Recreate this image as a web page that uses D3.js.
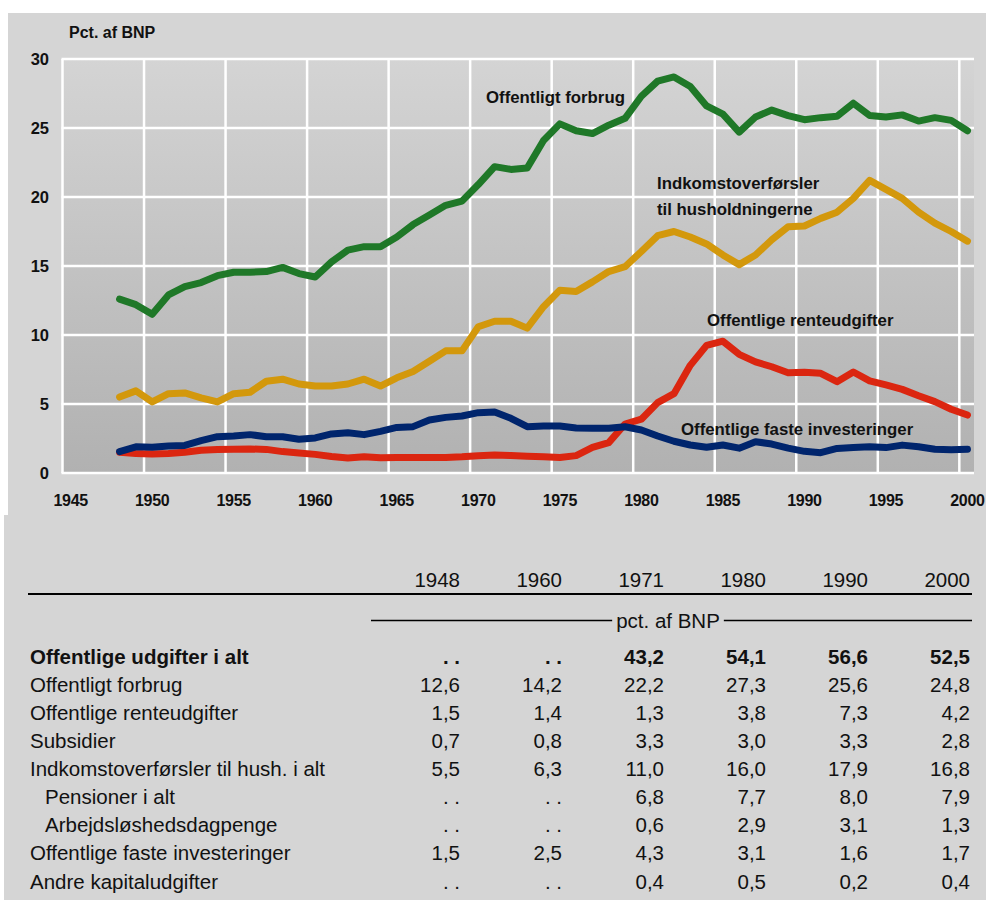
<!DOCTYPE html>
<html>
<head>
<meta charset="utf-8">
<script src="https://cdn.jsdelivr.net/npm/d3@7"></script>
<style>
  body { margin: 0; background: #fff; }
  svg { display: block; font-family: "Liberation Sans", Arial, sans-serif; }
</style>
</head>
<body>
<svg width="986" height="900"></svg>
<script>
// years 1948-2000
const years = [1948, 1949, 1950, 1951, 1952, 1953, 1954, 1955, 1956, 1957,
    1958, 1959, 1960, 1961, 1962, 1963, 1964, 1965, 1966, 1967,
    1968, 1969, 1970, 1971, 1972, 1973, 1974, 1975, 1976, 1977,
    1978, 1979, 1980, 1981, 1982, 1983, 1984, 1985, 1986, 1987,
    1988, 1989, 1990, 1991, 1992, 1993, 1994, 1995, 1996, 1997,
    1998, 1999, 2000]

const forbrug = [12.6, 12.2, 11.5, 12.9, 13.5, 13.8, 14.3, 14.55, 14.55, 14.6,
    14.9, 14.45, 14.2, 15.3, 16.15, 16.4, 16.4, 17.1, 18.0, 18.7,
    19.4, 19.7, 20.9, 22.2, 22.0, 22.1, 24.1, 25.3, 24.8, 24.6,
    25.2, 25.7, 27.3, 28.4, 28.7, 28.0, 26.6, 26.0, 24.7, 25.8,
    26.3, 25.9, 25.6, 25.75, 25.85, 26.8, 25.9, 25.8, 25.95, 25.5,
    25.75, 25.55, 24.8]

const overfoersler = [5.5, 5.95, 5.15, 5.75, 5.8, 5.45, 5.15, 5.75, 5.85, 6.65,
    6.8, 6.45, 6.3, 6.3, 6.45, 6.8, 6.3, 6.9, 7.35, 8.1,
    8.85, 8.85, 10.6, 11.0, 11.0, 10.5, 12.05, 13.25, 13.15, 13.85,
    14.6, 14.95, 16.05, 17.2, 17.5, 17.1, 16.6, 15.8, 15.1, 15.8,
    16.9, 17.85, 17.9, 18.45, 18.9, 19.9, 21.2, 20.55, 19.9, 18.9,
    18.1, 17.5, 16.8]

const renter = [1.5, 1.42, 1.38, 1.42, 1.5, 1.65, 1.7, 1.72, 1.74, 1.71,
    1.55, 1.45, 1.35, 1.2, 1.08, 1.18, 1.1, 1.12, 1.12, 1.12,
    1.12, 1.17, 1.25, 1.3, 1.26, 1.22, 1.18, 1.13, 1.26, 1.85,
    2.2, 3.55, 3.9, 5.1, 5.75, 7.8, 9.25, 9.55, 8.6, 8.05,
    7.7, 7.27, 7.3, 7.22, 6.62, 7.32, 6.68, 6.38, 6.06, 5.6,
    5.17, 4.62, 4.2]

const investeringer = [1.55, 1.9, 1.86, 1.96, 2.0, 2.34, 2.63, 2.68, 2.78, 2.63,
    2.63, 2.44, 2.54, 2.83, 2.92, 2.78, 3.02, 3.3, 3.36, 3.84,
    4.03, 4.13, 4.37, 4.42, 3.96, 3.36, 3.4, 3.4, 3.26, 3.25,
    3.25, 3.35, 3.12, 2.68, 2.3, 2.03, 1.86, 2.03, 1.8, 2.27,
    2.1, 1.8, 1.57, 1.47, 1.78, 1.85, 1.9, 1.84, 2.02, 1.9,
    1.72, 1.68, 1.72]

const xTicks = [1945, 1950, 1955, 1960, 1965, 1970, 1975, 1980, 1985, 1990, 1995, 2000]
const yTicks = [0, 5, 10, 15, 20, 25, 30]

// table
const tableYears = ["1948", "1960", "1971", "1980", "1990", "2000"]
const tableRows = [
    "Offentlige udgifter i alt",
    "Offentligt forbrug",
    "Offentlige renteudgifter",
    "Subsidier",
    "Indkomstoverførsler til hush. i alt",
    "Pensioner i alt",
    "Arbejdsløshedsdagpenge",
    "Offentlige faste investeringer",
    "Andre kapitaludgifter"
]
const tableValues = [
    ["..", "..", "43,2", "54,1", "56,6", "52,5"],
    ["12,6", "14,2", "22,2", "27,3", "25,6", "24,8"],
    ["1,5", "1,4", "1,3", "3,8", "7,3", "4,2"],
    ["0,7", "0,8", "3,3", "3,0", "3,3", "2,8"],
    ["5,5", "6,3", "11,0", "16,0", "17,9", "16,8"],
    ["..", "..", "6,8", "7,7", "8,0", "7,9"],
    ["..", "..", "0,6", "2,9", "3,1", "1,3"],
    ["1,5", "2,5", "4,3", "3,1", "1,6", "1,7"],
    ["..", "..", "0,4", "0,5", "0,2", "0,4"]
]
const boldRows = [0]
const indentRows = [5, 6]

document.addEventListener('DOMContentLoaded', () => {
    drawChart()
    drawTable()
})

function drawChart() {
    const svg = d3.select("svg")

    svg.append("rect").attr("x", 8).attr("y", 13).attr("width", 978).attr("height", 502).attr("fill", "#d5d5d5")
    svg.append("rect").attr("x", 4).attr("y", 515).attr("width", 982).attr("height", 385).attr("fill", "#d5d5d5")

    const x = d3.scaleLinear().domain([1945, 2000.9]).range([62.5, 974])
    const y = d3.scaleLinear().domain([0, 30]).range([473, 59])

    // plot background gradient
    const grad = svg.append("defs").append("linearGradient")
        .attr("id", "plotbg").attr("x1", 0).attr("y1", 0).attr("x2", 0).attr("y2", 1)
    grad.append("stop").attr("offset", "0%").attr("stop-color", "#d4d4d4")
    grad.append("stop").attr("offset", "100%").attr("stop-color", "#b1b1b1")

    svg.append("rect")
        .attr("x", x(1945)).attr("y", y(30))
        .attr("width", x.range()[1] - x(1945)).attr("height", y(0) - y(30))
        .attr("fill", "url(#plotbg)")

    // grid
    svg.append("g").selectAll("line").data(xTicks).enter().append("line")
        .attr("x1", d => x(d)).attr("x2", d => x(d))
        .attr("y1", y(30)).attr("y2", y(0))
        .attr("stroke", "#fff").attr("stroke-width", 2.5)
    svg.append("g").selectAll("line").data(yTicks).enter().append("line")
        .attr("x1", x(1945) - 1).attr("x2", x.range()[1])
        .attr("y1", d => y(d)).attr("y2", d => y(d))
        .attr("stroke", "#fff").attr("stroke-width", 2.5)

    // tick labels
    svg.append("g").selectAll("text").data(yTicks).enter().append("text")
        .attr("x", 49).attr("y", d => y(d)).attr("dy", "0.36em")
        .attr("text-anchor", "end")
        .style("font-size", "16.5px").style("font-weight", "bold").attr("fill", "#111")
        .text(d => d)
    svg.append("g").selectAll("text").data(xTicks).enter().append("text")
        .attr("x", d => x(d + 0.5)).attr("y", 506)
        .attr("text-anchor", "middle")
        .style("font-size", "16px").style("font-weight", "bold").attr("fill", "#111")
        .style("letter-spacing", "-0.3px")
        .text(d => d)

    svg.append("text").attr("x", 69).attr("y", 38)
        .style("font-size", "16px").style("font-weight", "bold").attr("fill", "#111")
        .text("Pct. af BNP")

    // lines, plotted at mid-year
    const series = [
        { values: forbrug, color: "#1f7828" },
        { values: overfoersler, color: "#d3980c" },
        { values: renter, color: "#db2610" },
        { values: investeringer, color: "#00256d" }
    ]
    const line = d3.line()
        .x((d, i) => x(years[i] + 0.5))
        .y(d => y(d))

    svg.append("g").selectAll("path").data(series).enter().append("path")
        .attr("d", d => line(d.values))
        .attr("fill", "none")
        .attr("stroke", d => d.color)
        .attr("stroke-width", 7)
        .attr("stroke-linejoin", "round")
        .attr("stroke-linecap", "round")

    // series labels
    const labels = [
        { text: "Offentligt forbrug", x: 486, y: 103 },
        { text: "Indkomstoverførsler", x: 657, y: 189 },
        { text: "til husholdningerne", x: 657, y: 215 },
        { text: "Offentlige renteudgifter", x: 707, y: 326 },
        { text: "Offentlige faste investeringer", x: 681, y: 435 }
    ]
    svg.append("g").selectAll("text").data(labels).enter().append("text")
        .attr("x", d => d.x).attr("y", d => d.y)
        .style("font-size", "16.8px").style("font-weight", "bold").attr("fill", "#111")
        .text(d => d.text)
}

function drawTable() {
    const svg = d3.select("svg")
    const g = svg.append("g").style("font-size", "20.5px").attr("fill", "#111")

    const col = d3.scalePoint().domain(tableYears).range([460, 970])
    const row = d3.scaleLinear().domain([0, 8]).range([663.5, 888.5])

    g.selectAll("text.year").data(tableYears).enter().append("text")
        .attr("class", "year")
        .attr("x", d => col(d)).attr("y", 587)
        .attr("text-anchor", "end")
        .text(d => d)

    g.append("line").attr("x1", 28).attr("x2", 972).attr("y1", 594).attr("y2", 594)
        .attr("stroke", "#000").attr("stroke-width", 2.2)

    // unit line with text in the middle
    const unit = g.append("text").attr("x", 668).attr("y", 628)
        .attr("text-anchor", "middle").text("pct. af BNP")
    const w = unit.node().getComputedTextLength()
    g.append("line").attr("x1", 371).attr("x2", 668 - w / 2 - 4).attr("y1", 620.5).attr("y2", 620.5)
        .attr("stroke", "#000").attr("stroke-width", 1.6)
    g.append("line").attr("x1", 668 + w / 2 + 4).attr("x2", 972).attr("y1", 620.5).attr("y2", 620.5)
        .attr("stroke", "#000").attr("stroke-width", 1.6)

    // row labels
    g.selectAll("text.label").data(tableRows).enter().append("text")
        .attr("class", "label")
        .attr("x", (d, i) => indentRows.includes(i) ? 45 : 30)
        .attr("y", (d, i) => row(i))
        .style("font-weight", (d, i) => boldRows.includes(i) ? "bold" : "normal")
        .text(d => d)

    // values
    tableValues.forEach((vals, i) => {
        g.append("g").selectAll("text").data(vals).enter().append("text")
            .attr("x", (d, j) => col(tableYears[j]))
            .attr("y", row(i))
            .attr("text-anchor", "end")
            .style("font-weight", boldRows.includes(i) ? "bold" : "normal")
            .text(d => d == ".." ? ". ." : d)
    })
}
</script>
</body>
</html>
